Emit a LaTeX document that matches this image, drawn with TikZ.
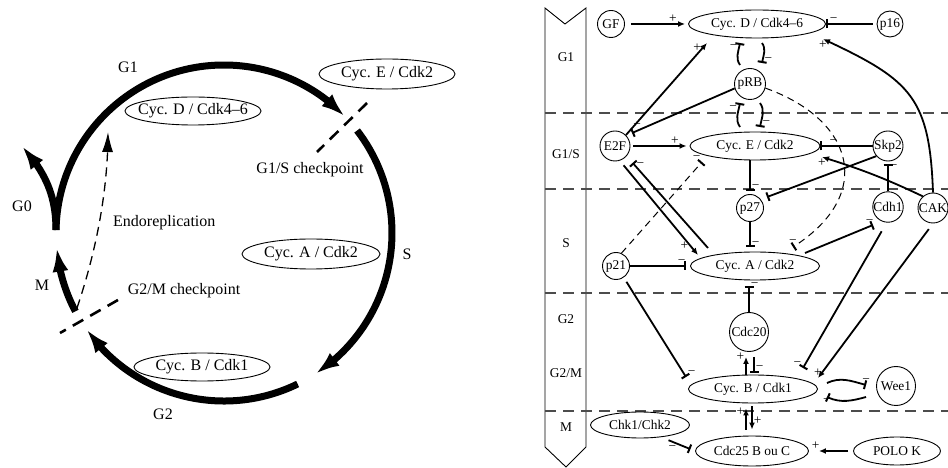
\documentclass[tikz,border=0pt]{standalone}
\usepackage{fontspec}
\setmainfont{Liberation Serif}
\usetikzlibrary{arrows.meta,bending,shapes.geometric}

\newcommand{\bigtxt}{\fontsize{16bp}{19bp}\selectfont}
\newcommand{\smtxt}{\fontsize{13.4bp}{16bp}\selectfont}

\begin{document}
\begin{tikzpicture}[x=1bp, y=-1bp,
    cplx/.style = {ellipse, draw, line width=0.9bp, inner xsep=-8bp, inner ysep=0bp, font=\bigtxt},
    phaselab/.style = {inner sep=0bp, font=\bigtxt},
    cyclearc/.style = {line width=7bp, -{Latex[length=24bp,width=16bp]}},
    ckpt/.style = {line width=2.6bp, dash pattern=on 12bp off 8bp},
    endoarr/.style = {line width=1.3bp, dash pattern=on 9bp off 6bp, -{Latex[length=20bp,width=11bp]}},
    prot/.style = {circle, draw, line width=0.9bp, inner sep=0bp, minimum size=#1, font=\smtxt},
    prot/.default = 28bp,
    cpx/.style = {ellipse, draw, line width=0.9bp, inner sep=0bp, font=\smtxt},
    act/.style = {line width=1.8bp, -{Latex[length=7bp,width=6bp]}},
    inh/.style = {line width=1.8bp, -{Bar[width=9bp,line width=2bp]}},
    dsh/.style = {line width=1bp, dash pattern=on 7bp off 5bp},
    sep/.style = {line width=1.3bp, black!70, dash pattern=on 10.5bp off 7.5bp},
    sgn/.style = {font=\smtxt, inner sep=1bp},
    col/.style = {font=\smtxt, inner sep=0bp}]
  \useasboundingbox (0,0) rectangle (948,468);
  \clip (0,0) rectangle (948,468);

  % cell cycle wheel
  \coordinate (ctr) at (224,233);
  \draw[cyclearc] ([shift={(181:168)}]ctr) arc[start angle=181, end angle=316, radius=168];
  \draw[cyclearc] ([shift={(-37.6:168)}]ctr) arc[start angle=-37.6, end angle=57, radius=168];
  \draw[cyclearc] ([shift={(64:168)}]ctr) arc[start angle=64, end angle=145, radius=168];
  \draw[cyclearc] ([shift={(152.2:168)}]ctr) arc[start angle=152.2, end angle=175, radius=168];
  \draw[cyclearc] (56,230) .. controls (56,195) and (45,172) .. (22,146);
  \draw[endoarr] (77,308) .. controls (100,240) and (108,180) .. (108,132);
  \draw[ckpt] (367,103) -- (317,152);
  \draw[ckpt] (118,300) -- (60,333);

  \node[phaselab] (lg1) at (128,67) {G1};
  \node[phaselab] (lg0) at (22,206) {G0};
  \node[phaselab] (ls) at (407,254) {S};
  \node[phaselab] (lm) at (42,285) {M};
  \node[phaselab] (lg2) at (163,414) {G2};
  \node[phaselab] (g1s) at (310,170) {G1/S checkpoint};
  \node[phaselab, anchor=west] (endo) at (113,223) {Endoreplication};
  \node[phaselab] (g2m) at (184,291) {G2/M checkpoint};
  \node[cplx, minimum width=136bp, minimum height=30bp] (lcyce) at (387,74) {Cyc. E / Cdk2};
  \node[cplx, minimum width=136bp, minimum height=28bp] (lcycd) at (193,111) {Cyc. D / Cdk4--6};
  \node[cplx, minimum width=138bp, minimum height=30bp] (lcyca) at (311,254) {Cyc. A / Cdk2};
  \node[cplx, minimum width=136bp, minimum height=28bp] (lcycb) at (202,367) {Cyc. B / Cdk1};

  % phase column
  \draw[line width=0.9bp] (545,8) -- (565,24) -- (586,8) -- (586,447) -- (566,467) -- (545,447) -- cycle;
  \foreach \y in {113,189,293,411}
    \draw[sep] (545,\y) -- (948,\y);
  \node[col] (cg1) at (566,57) {G1};
  \node[col] (cg1s) at (566,154) {G1/S};
  \node[col] (cs) at (566,243) {S};
  \node[col] (cg2) at (566,319) {G2};
  \node[col] (cg2m) at (566,373) {G2/M};
  \node[col] (cm) at (566,427) {M};

  % regulators
  \node[prot=27bp] (gf) at (611,24) {GF};
  \node[cpx, minimum width=137bp, minimum height=28bp] (cycd) at (757,24) {Cyc. D / Cdk4--6};
  \node[prot=26bp] (p16) at (890,24) {p16};
  \node[prot=31bp] (prb) at (750,84) {pRB};
  \node[prot=30bp] (e2f) at (615,146) {E2F};
  \node[cpx, minimum width=130bp, minimum height=28bp] (cyce) at (755,146) {Cyc. E / Cdk2};
  \node[prot=30bp] (skp2) at (888,146) {Skp2};
  \node[prot=27bp] (p27) at (750,208) {p27};
  \node[prot=30bp] (cdh1) at (888,207) {Cdh1};
  \node[prot=30bp] (cak) at (933,208) {CAK};
  \node[prot=27bp] (p21) at (616,266) {p21};
  \node[cpx, minimum width=129bp, minimum height=28bp] (cyca) at (755,266) {Cyc. A / Cdk2};
  \node[prot=39bp] (cdc20) at (749,332) {Cdc20};
  \node[cpx, minimum width=129bp, minimum height=28bp] (cycb) at (753,389) {Cyc. B / Cdk1};
  \node[prot=39bp] (wee1) at (896,386) {Wee1};
  \node[cpx, minimum width=99bp, minimum height=26bp] (chk) at (640,425) {Chk1/Chk2};
  \node[cpx, minimum width=113bp, minimum height=30bp] (cdc25) at (752,451) {Cdc25 B ou C};
  \node[cpx, minimum width=87bp, minimum height=28bp] (polo) at (897,451) {POLO K};

  % G1
  \draw[act, shorten <=6bp, shorten >=3bp] (gf) -- (cycd) node[sgn, pos=0.76, above] {+};
  \draw[inh, shorten <=4bp] (p16) -- (cycd) node[sgn, pos=0.85, above] {−};
  \draw[act] (e2f.45) -- ([shift={(-50,19)}]cycd.center) node[sgn, pos=0.95, left] {+};
  \draw[inh] (prb.196) -- ([shift={(17,-13)}]e2f.center) node[sgn, pos=0.95, above] {−};
  \draw[inh] ([shift={(-10,-19)}]prb.center) to[out=125, in=-100] node[sgn, pos=0.85, left] {−} ([shift={(-17,19)}]cycd.center);
  \draw[inh] ([shift={(5,19)}]cycd.center) to[out=-55, in=80] node[sgn, pos=0.85, right] {−} ([shift={(12,-21)}]prb.center);
  \draw[inh] ([shift={(-15,-19)}]cyce.center) to[out=125, in=-100] node[sgn, pos=0.8, left] {−} ([shift={(-10,19)}]prb.center);
  \draw[inh] ([shift={(10,19)}]prb.center) to[out=-55, in=80] node[sgn, pos=0.85, right] {−} ([shift={(5,-19)}]cyce.center);
  \draw[inh, dsh] (prb.-15) .. controls (855,120) and (875,195) .. ([shift={(38,-19)}]cyca.center) node[sgn, pos=1, above=1bp] {−};
  \draw[act, looseness=1.3] (cak.north) to[out=92, in=-25] node[sgn, pos=1, below] {+} ([shift={(66,15)}]cycd.center);

  % G1/S
  \draw[act, shorten <=3bp, shorten >=3bp] (e2f) -- (cyce) node[sgn, pos=0.75, above] {+};
  \draw[inh] (skp2) -- (cyce) node[sgn, pos=0.75, above] {−};
  \draw[act, bend right=4] (cak.131) to node[sgn, pos=1, below] {+} ([shift={(67,11)}]cyce.center);
  \draw[inh, dsh] (p21.67) -- ([shift={(-53,16)}]cyce.center) node[sgn, pos=1, above left] {−};
  \draw[inh] (skp2.221) -- ([shift={(17,-11)}]p27.center);
  \draw[inh, shorten >=3bp] (cdh1) -- (skp2) node[sgn, pos=0.8, right] {−};
  \draw[inh, shorten >=3bp] (p27 |- cyce.south) -- (p27) node[sgn, pos=0.8, right] {−};

  % S
  \draw[inh, shorten >=5bp] (p27) -- (p27 |- cyca.north) node[sgn, pos=0.75, right] {−};
  \draw[act, shorten <=6bp] (e2f.-72) -- ([shift={(-57,-11)}]cyca.center) node[sgn, pos=0.9, left] {+};
  \draw[inh, shorten >=9bp] ([shift={(-47,-18)}]cyca.center) -- (e2f.-41) node[sgn, pos=0.9, right] {−};
  \draw[inh, shorten >=4bp] (p21) -- (cyca) node[sgn, pos=0.86, above] {−};
  \draw[inh] ([shift={(50,-13)}]cyca.center) -- ([shift={(-15,18)}]cdh1.center) node[sgn, pos=0.95, above] {−};
  \draw[inh, shorten >=6bp] (cdc20) -- (cdc20 |- cyca.south) node[sgn, pos=0.85, right] {−};

  % G2/M
  \draw[inh, shorten <=5bp] (p21.-56) -- ([shift={(-67,-12)}]cycb.center) node[sgn, pos=1, above right] {−};
  \draw[act, shorten >=5bp] ([shift={(-7,0)}]cycb.north) -- ([shift={(-3,0)}]cdc20.south) node[sgn, pos=0.8, left] {+};
  \draw[inh, shorten <=5bp, shorten >=2bp] ([shift={(5,0)}]cdc20.south) -- ([shift={(1,0)}]cycb.north) node[sgn, pos=0.7, right] {−};
  \draw[inh, shorten <=10bp] (cdh1.-95) -- ([shift={(50,-21)}]cycb.center) node[sgn, pos=1, above left] {−};
  \draw[act, shorten <=7bp] (cak.-90) -- ([shift={(65,-11)}]cycb.center) node[sgn, pos=1, above] {+};
  \draw[inh] ([shift={(9,-6)}]cycb.east) to[out=25, in=165] node[sgn, pos=1, above] {−} ([shift={(-10,-1)}]wee1.west);
  \draw[inh] ([shift={(-10,11)}]wee1.west) to[out=-165, in=-25] node[sgn, pos=1, below] {−} ([shift={(9,8)}]cycb.east);

  % M
  \draw[act, shorten <=6bp, shorten >=5bp] ([shift={(-6,0)}]cdc25.north) -- ([shift={(-7,0)}]cycb.south) node[sgn, pos=0.75, left] {+};
  \draw[act, shorten <=3bp, shorten >=6bp] ([shift={(-1,0)}]cycb.south) -- (cdc25.north) node[sgn, pos=0.55, right] {+};
  \draw[inh, shorten <=8bp, shorten >=5bp] (chk.-30) -- (cdc25.west) node[sgn, pos=0.5, below left] {−};
  \draw[act, shorten <=5bp, shorten >=10bp] (polo) -- (cdc25) node[sgn, pos=0.85, above] {+};
\end{tikzpicture}
\end{document}
